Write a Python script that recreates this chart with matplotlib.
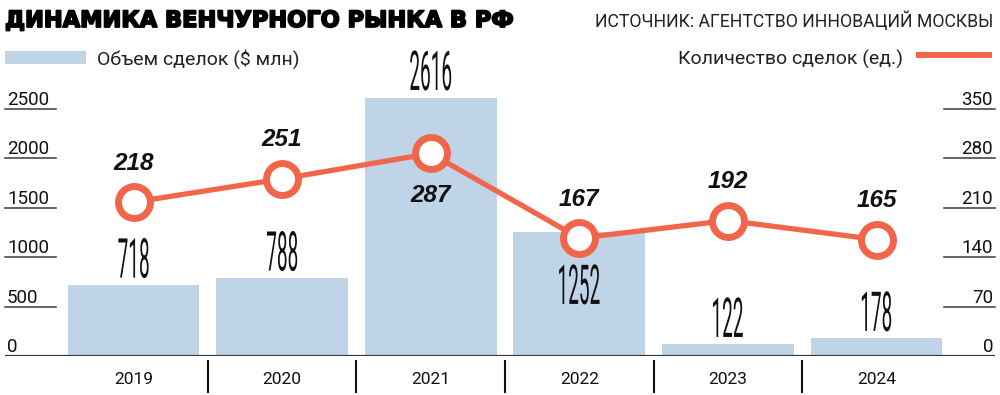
import matplotlib
import numpy as np

matplotlib.use("Agg")
import matplotlib.pyplot as plt
from matplotlib import patheffects
from matplotlib import transforms as mtransforms
from matplotlib.font_manager import FontProperties
from matplotlib.patches import PathPatch, Rectangle
from matplotlib.textpath import TextPath

years = ["2019", "2020", "2021", "2022", "2023", "2024"]
volume = [718, 788, 2616, 1252, 122, 178]
deals = [218, 251, 287, 167, 192, 165]
left_ticks = [0, 500, 1000, 1500, 2000, 2500]
right_ticks = [0, 70, 140, 210, 280, 350]

title = "ДИНАМИКА ВЕНЧУРНОГО РЫНКА В РФ"
source = "ИСТОЧНИК: АГЕНТСТВО ИННОВАЦИЙ МОСКВЫ"
volume_label = "Объем сделок ($ млн)"
deals_label = "Количество сделок (ед.)"

BAR = "#bfd4e7"
LINE = "#f1664a"
INK = "#111111"
RULE = "#3a3a3a"
SANS = ["Roboto", "DejaVu Sans"]

W, H, DPI = 1000, 395, 100


def px_x(p):
    return p / W


def px_y(p):
    # pixel row from the top -> figure fraction
    return 1 - p / H


def tall_number(ax, x, y, s, dy_px, anchor="bottom"):
    # very condensed digits: draw the glyph outline and squeeze it horizontally
    path = TextPath((0, 0), s, size=100, prop=FontProperties(family="Roboto"))
    ext = path.get_extents()
    ox = -(ext.x0 + ext.x1) / 2
    oy = -ext.y0 if anchor == "bottom" else -ext.y1
    tr = (
        mtransforms.Affine2D().translate(ox, oy).scale(0.19, 0.55).translate(0, dy_px)
        + mtransforms.ScaledTranslation(x, y, ax.transData)
    )
    ax.add_artist(PathPatch(path, transform=tr, facecolor=INK, edgecolor="none", clip_on=False))


fig = plt.figure(figsize=(W / DPI, H / DPI), dpi=DPI)
ax = fig.add_axes([px_x(5), px_y(356), px_x(990), (356 - 60) / H])
ax2 = ax.twinx()

x = np.arange(len(years))
ymax = 2500 * (356 - 60) / 247
ax.set_xlim((5 - 133.5) / 148.6, (995 - 133.5) / 148.6)
ax.set_ylim(0, ymax)
ax2.set_ylim(0, ymax * 350 / 2500)

for a in (ax, ax2):
    a.set_xticks([])
    a.set_yticks([])
    for sp in a.spines.values():
        sp.set_visible(False)

ax.bar(x, volume, width=0.887, color=BAR, zorder=1, clip_on=False)
ax.axhline(0, color=RULE, lw=1.6, zorder=2)

# left axis: labels with short rules under them
ytr = ax.get_yaxis_transform()
for v in left_ticks:
    ax.text(2 / 990, v, f"{v}", transform=ytr, ha="left", va="bottom",
            family=SANS, fontsize=13.5, color=INK)
    if v:
        ax.plot([0, 51 / 990], [v, v], transform=ytr, color=RULE, lw=1.1, clip_on=False)

ytr2 = ax2.get_yaxis_transform()
for v in right_ticks:
    ax2.text(988 / 990, v, f"{v}", transform=ytr2, ha="right", va="bottom",
             family=SANS, fontsize=13.5, color=INK)
    if v:
        ax2.plot([939 / 990, 1], [v, v], transform=ytr2, color=RULE, lw=1.1, clip_on=False)

# category labels and separators under the baseline
btr = mtransforms.blended_transform_factory(ax.transData, fig.transFigure)
for i, yr in enumerate(years):
    ax.text(i, px_y(379), yr, transform=btr, ha="center", va="center",
            family=SANS, fontsize=12.5, color=INK)
    if i < len(years) - 1:
        ax.plot([i + 0.5, i + 0.5], [px_y(361), px_y(392)], transform=btr,
                color=INK, lw=1.5, clip_on=False)

# bar values
inside = [False, False, False, True, False, False]
for i, v in enumerate(volume):
    if inside[i]:
        tall_number(ax, i, v, f"{v}", -32, anchor="top")
    else:
        tall_number(ax, i, v, f"{v}", 7, anchor="bottom")

# deal counts
ax2.plot(x, deals, color=LINE, lw=3.8, marker="o", ms=23, mfc="white",
         mec=LINE, mew=5, zorder=3, clip_on=False)
below = [False, False, True, False, False, False]
for i, v in enumerate(deals):
    off = -30 if below[i] else 28
    ax2.annotate(f"{v}", (i, v), xytext=(0, off), textcoords="offset points",
                 ha="center", va="center", family="Liberation Sans", fontsize=17.5,
                 fontweight="bold", fontstyle="italic", color=INK)

# header
fig.text(px_x(5), px_y(21), title, ha="left", va="center", family="DejaVu Sans",
         fontsize=16.2, fontweight="bold", color="black",
         path_effects=[patheffects.withStroke(linewidth=1.3, foreground="black")])
fig.text(px_x(993), px_y(21), source, ha="right", va="center", family=SANS,
         fontsize=12.7, color="#222222")

# legend
fig.add_artist(Rectangle((px_x(5), px_y(64)), px_x(81), 13 / H, transform=fig.transFigure,
                         facecolor=BAR, edgecolor="none"))
fig.text(px_x(97), px_y(59), volume_label, ha="left", va="center", family=SANS,
         fontsize=14, color="#222222")
fig.add_artist(plt.Line2D([px_x(916), px_x(992)], [px_y(55), px_y(55)],
                          transform=fig.transFigure, color=LINE, lw=4.3,
                          solid_capstyle="butt"))
fig.text(px_x(903), px_y(59), deals_label, ha="right", va="center", family=SANS,
         fontsize=14, color="#222222")

fig.savefig("out.png", dpi=DPI)
plt.close(fig)
